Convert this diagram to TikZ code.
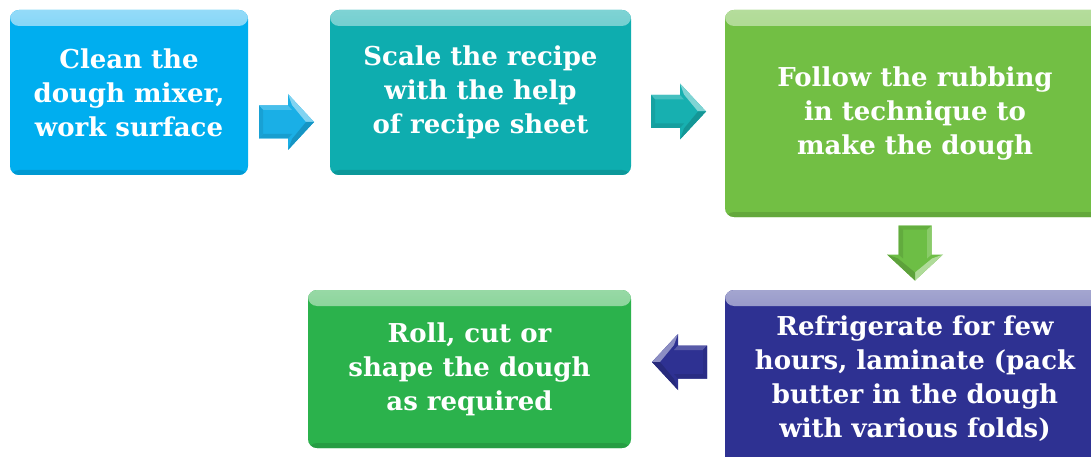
\documentclass[tikz,border=0pt]{standalone}
\usepackage{fontspec}
\setmainfont{DejaVu Serif}
\usetikzlibrary{calc}
\definecolor{cA}{HTML}{00AEEF}
\definecolor{cAl}{HTML}{95DBF8}
\definecolor{cB}{HTML}{0EADAF}
\definecolor{cBl}{HTML}{7FD3D4}
\definecolor{cC}{HTML}{72BF44}
\definecolor{cCl}{HTML}{B5DD9C}
\definecolor{cD}{HTML}{2E3192}
\definecolor{cDl}{HTML}{A4A6D0}
\definecolor{cE}{HTML}{2BB24C}
\definecolor{cEl}{HTML}{98D9A6}
\definecolor{aA}{HTML}{1AAFE6}
\definecolor{aB}{HTML}{17B0B0}
\definecolor{aC}{HTML}{6DBE45}
\definecolor{aD}{HTML}{2E3192}
\tikzset{
  box/.style 2 args={fill=#1, rounded corners=9pt, text=white, align=center,
    inner sep=0pt, font=\fontsize{26}{34}\selectfont\bfseries,
    path picture={
      \shade[top color=#2, bottom color=#1]
        ([yshift=1pt]path picture bounding box.north west) rectangle
        ([yshift=-16pt]path picture bounding box.north east);
      \fill[#1!88!black]
        (path picture bounding box.south west) rectangle
        ([yshift=5pt]path picture bounding box.south east);
    }},
  pics/barrow/.style={code={
    \fill[#1] (-28,-16.5) -- (1,-16.5) -- (1,-28) -- (27,0) -- (1,28) -- (1,16.5) -- (-28,16.5) -- cycle;
    \fill[#1!80!white] (-28,-16.5) -- (1,-16.5) -- (5,-12) -- (-24,-12) -- cycle;
    \fill[#1!55!white] (1,-28) -- (27,0) -- (19,0) -- (5,-17) -- cycle;
    \fill[#1!85!black] (27,0) -- (1,28) -- (5,17) -- (19,0) -- cycle;
    \fill[#1!90!black] (-28,16.5) -- (1,16.5) -- (5,12) -- (-24,12) -- cycle;
    \fill[#1!92!black] (-28,-16.5) -- (-24,-12) -- (-24,12) -- (-28,16.5) -- cycle;
  }}
}
\begin{document}
\begin{tikzpicture}[x=1pt,y=-1pt]
\useasboundingbox (0,0) rectangle (1091,457);
\clip (0,0) rectangle (1091,457);
\node[box={cA}{cAl}, minimum width=238pt, minimum height=165pt] (b1) at (129,92.5)
  {Clean the\\dough mixer,\\work surface};
\node[box={cB}{cBl}, minimum width=301pt, minimum height=165pt] (b2) at (480.5,92.5)
  {Scale the recipe\\with the help\\of recipe sheet};
\node[box={cC}{cCl}, minimum width=380pt, minimum height=207pt] (b3) at (915,113.5)
  {Follow the rubbing\\in technique to\\make the dough};
\node[box={cD}{cDl}, minimum width=380pt, minimum height=178pt] (b4) at (915,379)
  {Refrigerate for few\\hours, laminate (pack\\butter in the dough\\with various folds)};
\node[box={cE}{cEl}, minimum width=323pt, minimum height=158pt] (b5) at (469.5,369)
  {Roll, cut or\\shape the dough\\as required};
\pic at ($(b1.east)!0.5!(b2.west)+(-2,29.5)$) {barrow=aA};
\pic at ($(b2.east)!0.5!(b3.west)+(1,8.5)$) {barrow=aB};
\pic[rotate=-90] at ($(b3.south)!0.5!(b4.north)$) {barrow=aC};
\pic[xscale=-1] at ($(b5.east)!0.5!(b4.west)+(1,-12)$) {barrow=aD};
\end{tikzpicture}
\end{document}
